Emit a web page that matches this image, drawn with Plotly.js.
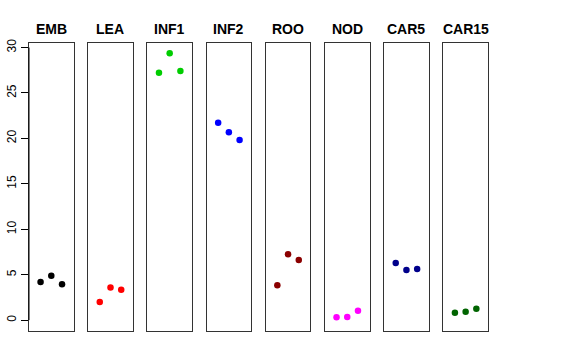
<!DOCTYPE html>
<html>
<head>
<meta charset="utf-8">
<script src="https://cdn.plot.ly/plotly-3.0.1.min.js"></script>
<style>html,body{margin:0;padding:0;background:#fff;}#chart{width:576px;height:360px;}</style>
</head>
<body>
<div id="chart"></div>
<script>
// Data
const tissues = ["EMB", "LEA", "INF1", "INF2", "ROO", "NOD", "CAR5", "CAR15"];
const replicate = [1, 2, 3];
const EMB = [4.19, 4.88, 3.94];
const LEA = [1.98, 3.60, 3.34];
const INF1 = [27.23, 29.36, 27.42];
const INF2 = [21.72, 20.69, 19.81];
const ROO = [3.83, 7.24, 6.62];
const NOD = [0.30, 0.33, 1.03];
const CAR5 = [6.28, 5.51, 5.62];
const CAR15 = [0.81, 0.92, 1.25];
const yTicks = [0, 5, 10, 15, 20, 25, 30];

const values = [EMB, LEA, INF1, INF2, ROO, NOD, CAR5, CAR15];
const colors = ["#000000", "#FF0000", "#00CD00", "#0000FF", "#8B0000", "#FF00FF", "#00008B", "#006400"];

const plotW = 576 - 29 - 88;
const step = 59.19 / plotW;
const wid = 44.6 / plotW;

const traces = [];
const layout = {
  width: 576, height: 360,
  margin: {l: 29, r: 88, t: 43, b: 29, pad: 0},
  paper_bgcolor: "#ffffff", plot_bgcolor: "#ffffff",
  showlegend: false,
  font: {family: "Liberation Sans, Arial, sans-serif", color: "#000"},
  annotations: [],
  shapes: []
};

tissues.forEach((t, i) => {
  const sfx = i === 0 ? "" : String(i + 1);
  traces.push({
    type: "scatter", mode: "markers",
    x: replicate, y: values[i],
    xaxis: "x" + sfx, yaxis: "y" + sfx,
    marker: {color: colors[i], size: 6.5},
    hoverinfo: "skip"
  });
  const x0 = i * step;
  layout["xaxis" + sfx] = {
    domain: [x0, x0 + wid], range: [-0.08, 4.08],
    showgrid: false, zeroline: false, showticklabels: false, ticks: "",
    showline: true, mirror: true, linecolor: "#333", linewidth: 1,
    anchor: "y" + sfx, fixedrange: true
  };
  const ya = {
    domain: [0, 1], range: [-1.2, 30.5],
    showgrid: false, zeroline: false,
    showline: true, mirror: true, linecolor: "#333", linewidth: 1,
    anchor: "x" + sfx, fixedrange: true
  };
  if (i === 0) {
    ya.tickmode = "array";
    ya.tickvals = yTicks;
    ya.ticktext = yTicks.map(String);
    ya.ticks = "outside";
    ya.ticklen = 7;
    ya.tickcolor = "#000";
    ya.tickwidth = 1;
    ya.tickangle = -90;
    ya.tickfont = {size: 12, color: "#000", family: "Liberation Sans, Arial, sans-serif"};
  } else {
    ya.showticklabels = false;
    ya.ticks = "";
  }
  layout["yaxis" + sfx] = ya;
  layout.annotations.push({
    text: "<b>" + t + "</b>",
    xref: "x" + sfx + " domain", x: 0.5, xanchor: "center",
    yref: "paper", y: 1, yanchor: "middle", yshift: 14,
    showarrow: false,
    font: {size: 14, color: "#000", family: "Liberation Sans, Arial, sans-serif"}
  });
});

layout.shapes.push({
  type: "line", xref: "x domain", x0: 0, x1: 0,
  yref: "y", y0: yTicks[0], y1: yTicks[yTicks.length - 1],
  line: {color: "#000", width: 1}
});

Plotly.newPlot("chart", traces, layout, {staticPlot: true, displayModeBar: false});
</script>
</body>
</html>
